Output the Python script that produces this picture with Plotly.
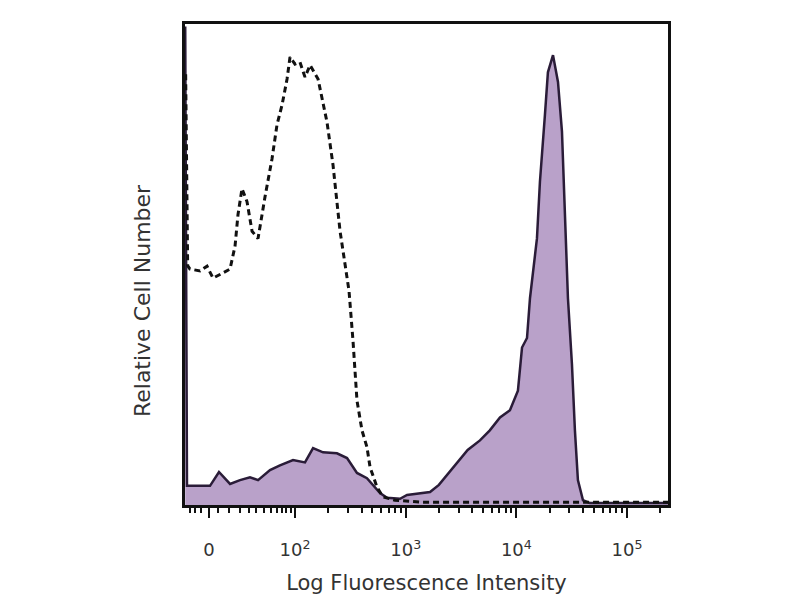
import math
import plotly.graph_objects as go

# x positions are in display (biexponential) decade units: 0 -> 1.223, 10^2 -> 2, 10^3 -> 3 ...
stained_x = [1.008, 1.012, 1.024, 1.070, 1.232, 1.313, 1.413, 1.503, 1.593, 1.666, 1.774, 1.864,
             1.982, 2.090, 2.163, 2.253, 2.379, 2.470, 2.560, 2.650, 2.768, 2.831, 2.949,
             3.012, 3.129, 3.220, 3.300, 3.463, 3.560, 3.671, 3.760, 3.852, 3.942, 4.014, 4.051,
             4.096, 4.123, 4.186, 4.213, 4.258, 4.285, 4.331, 4.376, 4.412, 4.439, 4.466,
             4.502, 4.529, 4.556, 4.602, 4.665, 5.37]
stained_y = [100, 60, 4.0, 4.0, 4.0, 6.9, 4.4, 5.2, 5.8, 5.2, 7.3, 8.3,
             9.4, 8.9, 11.9, 11.0, 10.8, 9.8, 6.7, 5.6, 2.5, 1.5, 1.3,
             2.1, 2.5, 2.7, 4.2, 8.7, 11.5, 13.5, 15.6, 18.3, 19.8, 23.9, 32.9,
             34.9, 43.2, 55.7, 67.6, 81.5, 90.4, 94.0, 88.4, 78.0, 60.7, 43.2,
             29.5, 15.6, 5.2, 1.0, 0.4, 0.4]

control_x = [1.012, 1.030, 1.051, 1.142, 1.205, 1.259, 1.341, 1.413, 1.458, 1.485, 1.521, 1.566,
             1.612, 1.666, 1.729, 1.792, 1.837, 1.883, 1.928, 1.955, 2.000, 2.045, 2.090,
             2.136, 2.208, 2.253, 2.289, 2.343, 2.379, 2.407, 2.452, 2.488, 2.524, 2.560,
             2.605, 2.650, 2.678, 2.741, 2.795, 2.903, 3.129, 5.37]
control_y = [90, 50, 49.3, 48.9, 49.9, 47.4, 48.4, 49.3, 54.1, 60.7, 66.1, 63.4,
             57.2, 55.7, 64.4, 72.3, 79.4, 83.6, 89.0, 93.6, 92.1, 92.5, 89.4,
             91.9, 89.0, 84.2, 80.0, 71.1, 64.0, 57.2, 50.3, 44.7, 34.3, 21.8,
             15.6, 12.1, 7.9, 3.7, 1.7, 1.0, 0.6, 0.6]

tick_vals = [1.223, 2, 3, 4, 5]
tick_text = ["0", "10<sup>2</sup>", "10<sup>3</sup>", "10<sup>4</sup>", "10<sup>5</sup>"]
minor_vals = [1.05, 1.10, 1.15, 1.30, 1.40, 1.50, 1.58, 1.65, 1.72, 1.78, 1.84, 1.88, 1.92, 1.96] + \
             [d + math.log10(k) for d in (2, 3, 4) for k in range(2, 10)] + \
             [5 + math.log10(2)]

fig = go.Figure()
fig.add_trace(go.Scatter(
    x=stained_x, y=stained_y, mode="lines", fill="tozeroy",
    fillcolor="#b9a1c9", line=dict(color="#2a1c38", width=2.5),
    showlegend=False))
fig.add_trace(go.Scatter(
    x=control_x, y=control_y, mode="lines",
    line=dict(color="#111111", width=3, dash="6px,4px"),
    showlegend=False))

fig.add_annotation(
    text="Relative Cell Number", textangle=-90,
    xref="paper", yref="paper", x=-0.089, y=0.424,
    xanchor="center", yanchor="middle", showarrow=False,
    font=dict(size=22, color="#333333", family="DejaVu Sans"))

fig.update_layout(
    width=800, height=600,
    paper_bgcolor="white", plot_bgcolor="white",
    margin=dict(l=177, r=140, t=16, b=103),
    font=dict(family="DejaVu Sans", color="#333333"),
    xaxis=dict(
        range=[1.006, 5.37], showgrid=False, zeroline=False, automargin=False,
        tickmode="array", tickvals=tick_vals, ticktext=tick_text,
        ticks="outside", ticklen=10, tickwidth=2, tickcolor="#111111",
        tickfont=dict(size=18, color="#333333"), ticklabelstandoff=17,
        minor=dict(tickvals=minor_vals, ticks="outside", ticklen=5, tickwidth=1.5, tickcolor="#111111"),
        showline=True, linecolor="#111111", linewidth=2.5, mirror=True,
        title=dict(text="Log Fluorescence Intensity", font=dict(size=21, color="#333333"), standoff=16),
    ),
    yaxis=dict(
        range=[0, 100.5], showgrid=False, zeroline=False, showticklabels=False, ticks="",
        automargin=False,
        showline=True, linecolor="#111111", linewidth=2.5, mirror=True,
    ),
)

fig.write_html("out.html")
